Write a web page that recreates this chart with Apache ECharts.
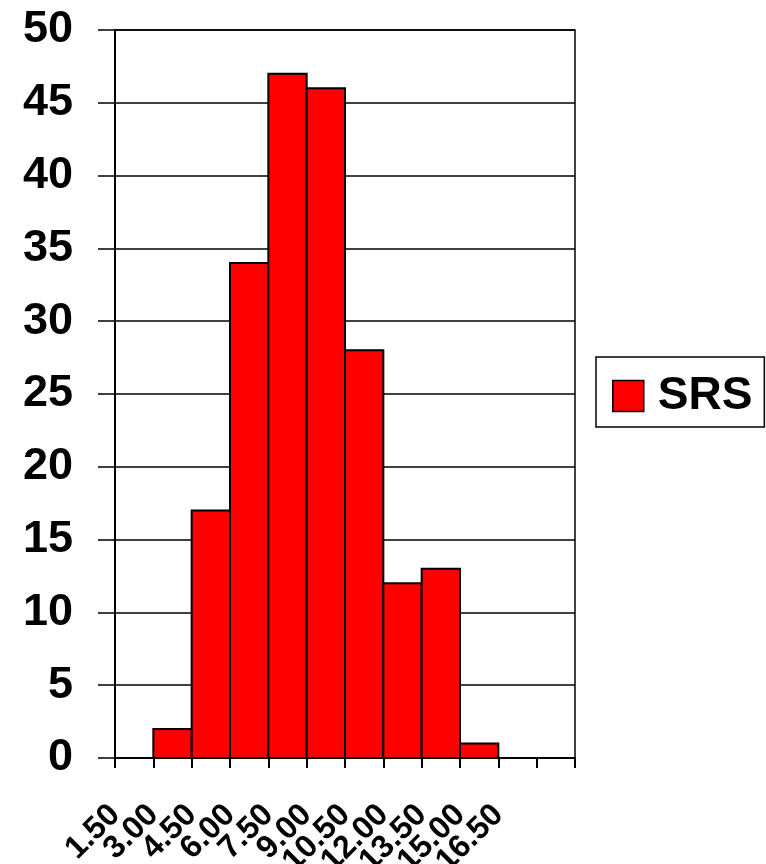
<!DOCTYPE html>
<html>
<head>
<meta charset="utf-8">
<script src="https://cdn.jsdelivr.net/npm/echarts@6/dist/echarts.min.js"></script>
<style>
  html, body { margin: 0; padding: 0; background: #fff; }
  #chart { width: 766px; height: 864px; }
</style>
</head>
<body>
<div id="chart"></div>
<script>
// tick labels along the x axis (the last two ticks carry no label)
const tickLabels = ['1.50', '3.00', '4.50', '6.00', '7.50', '9.00', '10.50', '12.00', '13.50', '15.00', '16.50', '', ''];
// histogram bins (lower edge, upper edge) and counts
const binStart = ['3.00', '4.50', '6.00', '7.50', '9.00', '10.50', '12.00', '13.50', '15.00'];
const binEnd   = ['4.50', '6.00', '7.50', '9.00', '10.50', '12.00', '13.50', '15.00', '16.50'];
const counts   = [2, 17, 34, 47, 46, 28, 12, 13, 1];
const seriesName = 'SRS';

const data = counts.map((c, i) => [tickLabels.indexOf(binStart[i]), tickLabels.indexOf(binEnd[i]), c]);

const myChart = echarts.init(document.getElementById('chart'));
const font = 'Liberation Sans, Arial, sans-serif';

myChart.setOption({
  animation: false,
  backgroundColor: '#fff',
  grid: {
    left: 115, top: 30, right: 191, bottom: 106,
    containLabel: false, outerBoundsMode: 'none',
    show: true, borderColor: '#000', borderWidth: 1.5, backgroundColor: 'transparent'
  },
  legend: {
    data: [seriesName],
    left: 596, top: 357,
    orient: 'vertical',
    padding: [16, 12, 8, 16],
    itemGap: 0,
    itemWidth: 31, itemHeight: 31,
    icon: 'rect',
    borderColor: '#000', borderWidth: 1.5,
    itemStyle: { color: '#ff0000', borderColor: '#000', borderWidth: 1.5 },
    textStyle: { fontFamily: font, fontWeight: 'bold', fontSize: 46, color: '#000', lineHeight: 46, padding: [0, 0, 0, 9] }
  },
  xAxis: {
    type: 'category',
    data: tickLabels,
    boundaryGap: false,
    axisLine: { show: true, lineStyle: { color: '#000', width: 2 } },
    axisTick: { show: true, interval: 0, length: 10, lineStyle: { color: '#000', width: 2 } },
    splitLine: { show: false },
    axisLabel: {
      interval: 0,
      rotate: 45,
      margin: 52,
      hideOverlap: false,
      fontFamily: font, fontWeight: 'bold', fontSize: 32, color: '#000'
    }
  },
  yAxis: {
    type: 'value',
    min: 0, max: 50, interval: 5,
    axisLine: { show: true, lineStyle: { color: '#000', width: 2 } },
    axisTick: { show: true, inside: false, length: 17, lineStyle: { color: '#000', width: 1.5 } },
    splitLine: { show: true, lineStyle: { color: '#000', width: 1.5 } },
    axisLabel: { margin: 42, hideOverlap: false, fontFamily: font, fontWeight: 'bold', fontSize: 45, color: '#000' }
  },
  series: [{
    name: seriesName,
    type: 'custom',
    itemStyle: { color: '#ff0000', borderColor: '#000', borderWidth: 2 },
    encode: { x: [0, 1], y: 2 },
    renderItem: function (params, api) {
      const p0 = api.coord([api.value(0), api.value(2)]);
      const p1 = api.coord([api.value(1), 0]);
      return {
        type: 'rect',
        shape: { x: p0[0], y: p0[1], width: p1[0] - p0[0], height: p1[1] - p0[1] },
        style: { fill: '#ff0000', stroke: '#000', lineWidth: 2 }
      };
    },
    data: data
  }]
});
</script>
</body>
</html>
